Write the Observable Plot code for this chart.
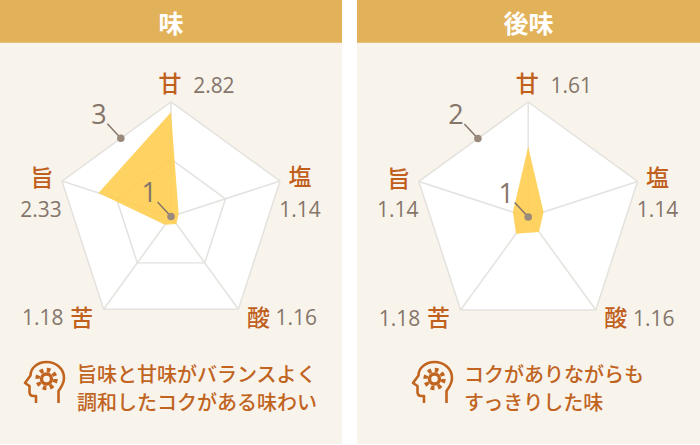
<!DOCTYPE html>
<html lang="ja">
<head>
<meta charset="utf-8">
<script src="https://cdn.jsdelivr.net/npm/d3@7"></script>
<script src="https://cdn.jsdelivr.net/npm/@observablehq/plot@0.6"></script>
<style>
html,body{margin:0;padding:0;background:#fff;}
body{width:700px;height:445px;position:relative;overflow:hidden;font-family:"Noto Sans CJK JP","Noto Sans",sans-serif;}
.panel{position:absolute;top:0;height:444px;background:#f8f4ec;}
.head{position:absolute;left:0;top:0;width:100%;height:42px;line-height:44px;background:#e2b25a;border-bottom:1.5px solid #e8c078;color:#fff;font-size:25px;font-weight:700;text-align:center;box-sizing:content-box;}
.plot{position:absolute;left:0;top:43px;}
.plot svg{display:block;background:transparent;overflow:visible;}
.cap{position:absolute;top:360px;color:#c0641f;font-size:20px;line-height:28px;font-weight:500;white-space:nowrap;}
.icon{position:absolute;top:360px;}
</style>
</head>
<body>
<script>
const axes = ["甘","塩","酸","苦","旨"];
const taste = [2.82,1.14,1.16,1.18,2.33];
const after = [1.61,1.14,1.16,1.18,1.14];
const titles = ["味","後味"];
const maxima = [3,2];
const captions = [["旨味と甘味がバランスよく","調和したコクがある味わい"],["コクがありながらも","すっきりした味"]];

const W = 343, H = 300, R = 115, CY = 173.5;
const polar = (r, i) => ({x: r * Math.sin(i * 2 * Math.PI / 5), y: r * Math.cos(i * 2 * Math.PI / 5)});
const ring = r => [0,1,2,3,4,0].map(i => polar(r, i));

// label offsets from each pentagon corner, in pixels: [name dx, dy, number dx, dy]
const off = [[-1,-17,43,-16],[20,-3,20,29],[20,9,58,9],[-22,9,-61,9],[-20,-2,-21,29]];

function radar(values, max, cx) {
  const scaled = v => (v - 1) / (max - 1);
  const ticks = d3.range(1, max + 1).slice(1);
  const shape = [...values, values[0]].map((v, i) => polar(scaled(v), i % 5));
  const marks = [
    Plot.line(ring(1), {x:"x", y:"y", fill:"#fff", stroke:"#e4e2de", strokeWidth:1.5}),
    ...ticks.slice(0,-1).map(t => Plot.line(ring(scaled(t)), {x:"x", y:"y", stroke:"#e4e2de", strokeWidth:1.5})),
    ...axes.map((_, i) => Plot.link([polar(1, i)], {x1:0, y1:0, x2:"x", y2:"y", stroke:"#e4e2de", strokeWidth:1.5})),
    Plot.line(shape, {x:"x", y:"y", fill:"#ffcd4c", fillOpacity:0.88, stroke:"none"}),
  ];
  axes.forEach((a, i) => {
    const c = polar(1, i), [ndx, ndy, vdx, vdy] = off[i];
    marks.push(Plot.text([c], {x:"x", y:"y", text:() => a, dx:ndx, dy:ndy, fill:"#c0601c", fontSize:23, fontWeight:500}));
    marks.push(Plot.text([c], {x:"x", y:"y", text:() => values[i].toFixed(2), dx:vdx, dy:vdy, fill:"#85756a", fontSize:21, fontFamily:'"Open Sans",sans-serif', letterSpacing:"0.7px"}));
  });
  // the two scale callouts: the outer value, on the upper-left edge, and 1, at the centre
  const a = polar(1, 0), b = polar(1, 4);
  const edge = {x: a.x + (b.x - a.x) * 0.46, y: a.y + (b.y - a.y) * 0.46};
  const centre = {x: 0, y: 0};
  for (const [p, label] of [[edge, String(max)], [centre, "1"]]) {
    marks.push(Plot.link([p], {x1:"x", y1:"y", x2:d => d.x - 13.5 / R, y2:d => d.y + 14.5 / R, stroke:"#85756a", strokeWidth:1.5}));
    marks.push(Plot.dot([p], {x:"x", y:"y", r:3.8, fill:"#9a8a7c"}));
    marks.push(Plot.text([p], {x:"x", y:"y", text:() => label, dx:-22, dy:-23, fill:"#85756a", fontSize:27, fontFamily:'"Open Sans",sans-serif'}));
  }
  return Plot.plot({
    width: W, height: H, margin: 0,
    style: {background:"transparent", fontFamily:'"Noto Sans CJK JP","Noto Sans",sans-serif'},
    x: {domain:[-cx / R, (W - cx) / R], range:[0, W], axis:null},
    y: {domain:[CY / R, (CY - H) / R], range:[0, H], axis:null},
    marks
  });
}

const icon = `<svg width="44" height="44" viewBox="0 0 44 44" fill="none" stroke="#c0641f" stroke-width="2.6" stroke-linejoin="round" stroke-linecap="butt">
<path d="M35.5 43 V31 C38.5 27 41 23.5 41 18 C41 8.5 33 2 23.5 2 C14 2 7.5 8.5 7.5 15.5 L2 23 L6.5 26 V32 C6.5 34.5 8 36 10.5 36 H13 V43"/>
<circle cx="23.5" cy="19" r="5" stroke-width="3.4"/>
<circle cx="23.5" cy="19" r="9" stroke-width="4.4" stroke-dasharray="3.6 3.47"/>
</svg>`;

const layout = [
  {left:0, width:342, cx:171, capLeft:77, values:taste},
  {left:357, width:343, cx:170.7, capLeft:107, values:after}
];
layout.forEach((l, k) => {
  const p = document.createElement("div");
  p.className = "panel";
  p.style.left = l.left + "px";
  p.style.width = l.width + "px";
  const h = document.createElement("div"); h.className = "head"; h.textContent = titles[k]; p.appendChild(h);
  const w = document.createElement("div"); w.className = "plot"; w.appendChild(radar(l.values, maxima[k], l.cx)); p.appendChild(w);
  const ic = document.createElement("div"); ic.className = "icon"; ic.innerHTML = icon;
  ic.style.left = (k === 0 ? 23 : 54) + "px"; p.appendChild(ic);
  const c = document.createElement("div"); c.className = "cap"; c.style.left = l.capLeft + "px";
  c.innerHTML = captions[k].join("<br>"); p.appendChild(c);
  document.body.appendChild(p);
});
</script>
</body>
</html>
